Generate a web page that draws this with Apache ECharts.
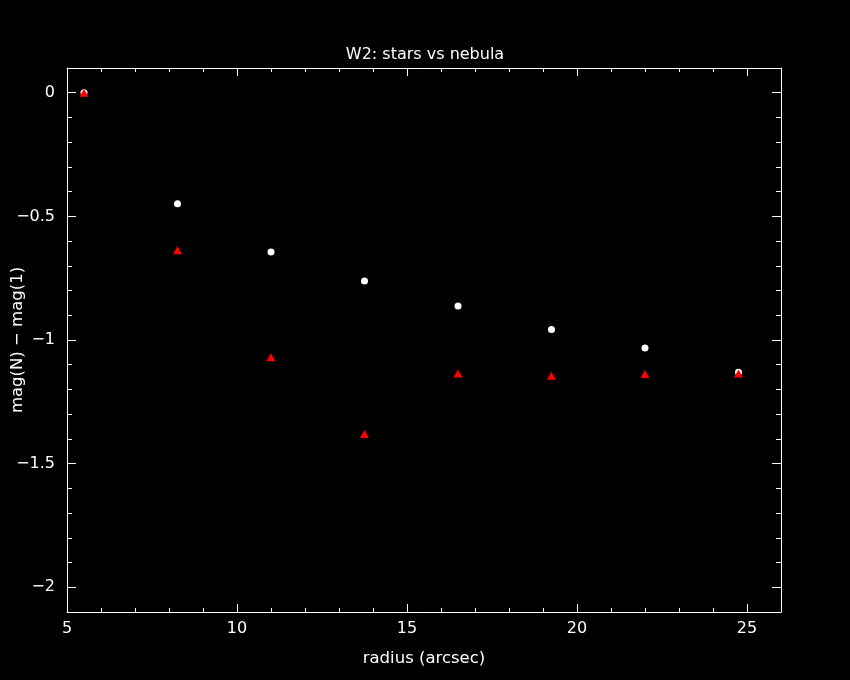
<!DOCTYPE html>
<html>
<head>
<meta charset="utf-8">
<script src="https://cdn.jsdelivr.net/npm/echarts@6/dist/echarts.min.js"></script>
<style>html,body{margin:0;padding:0;background:#000;}#c{width:850px;height:680px;}</style>
</head>
<body>
<div id="c"></div>
<script>
const radius = [5.5, 8.25, 11, 13.75, 16.5, 19.25, 22, 24.75];
const stars  = [0, -0.449, -0.644, -0.761, -0.862, -0.958, -1.032, -1.13];
const nebula = [0, -0.637, -1.07, -1.38, -1.135, -1.145, -1.137, -1.135];
const xTicks = [5, 10, 15, 20, 25];
const yTicks = [0, -0.5, -1, -1.5, -2];

const font = 'DejaVu Sans';
const fmtY = v => String(v).replace('-', '\u2212');
const line = {show: true, onZero: false, lineStyle: {color: '#fff', width: 1}};
const noLine = {show: false, onZero: false};
const X = {type: 'value', min: 5, max: 26, splitLine: {show: false}};
const Y = {type: 'value', min: -2.1, max: 0.1, splitLine: {show: false}};

function xAxes(pos, labels) {
  return [{
    ...X, position: pos, interval: 1, axisLine: line,
    axisTick: {show: true, inside: true, length: 4, lineStyle: {color: '#fff'}},
    axisLabel: {show: false}
  }, {
    ...X, position: pos, interval: 5, axisLine: noLine,
    axisTick: {show: true, inside: true, length: 8, customValues: xTicks, lineStyle: {color: '#fff'}},
    axisLabel: labels ? {show: true, color: '#fff', fontFamily: font, fontSize: 16, margin: 9, customValues: xTicks} : {show: false},
    ...(labels ? {name: 'radius (arcsec)', nameLocation: 'middle', nameGap: 38,
      nameTextStyle: {color: '#fff', fontFamily: font, fontSize: 16.5}} : {})
  }];
}
function yAxes(pos, labels) {
  return [{
    ...Y, position: pos, interval: 0.1, axisLine: line,
    axisTick: {show: true, inside: true, length: 5, lineStyle: {color: '#fff'}},
    axisLabel: {show: false}
  }, {
    ...Y, position: pos, interval: 0.1, axisLine: noLine,
    axisTick: {show: true, inside: true, length: 9, customValues: yTicks, lineStyle: {color: '#fff'}},
    axisLabel: labels ? {show: true, color: '#fff', fontFamily: font, fontSize: 16, margin: 12, customValues: yTicks, formatter: fmtY} : {show: false},
    ...(labels ? {name: 'mag(N) \u2212 mag(1)', nameLocation: 'middle', nameGap: 41, nameMoveOverlap: false,
      nameTextStyle: {color: '#fff', fontFamily: font, fontSize: 16.5}} : {})
  }];
}

const chart = echarts.init(document.getElementById('c'), null, {renderer: 'canvas'});
chart.setOption({
  backgroundColor: '#000',
  animation: false,
  title: {
    text: 'W2: stars vs nebula', left: 'center', top: 42,
    textStyle: {color: '#fff', fontFamily: font, fontSize: 16, fontWeight: 'normal'}
  },
  grid: {left: 67, right: 69, top: 68, bottom: 68, containLabel: false, outerBoundsMode: 'none'},
  xAxis: [...xAxes('bottom', true), ...xAxes('top', false)],
  yAxis: [...yAxes('left', true), ...yAxes('right', false)],
  series: [{
    name: 'stars', type: 'scatter', symbol: 'circle', symbolSize: 7,
    xAxisIndex: 0, yAxisIndex: 0,
    itemStyle: {color: '#fff', opacity: 1},
    data: radius.map((r, i) => [r, stars[i]])
  }, {
    name: 'nebula', type: 'scatter', symbol: 'triangle', symbolSize: [9, 8],
    xAxisIndex: 0, yAxisIndex: 0,
    itemStyle: {color: '#f00', opacity: 1},
    data: radius.map((r, i) => [r, nebula[i]])
  }]
});
</script>
</body>
</html>
